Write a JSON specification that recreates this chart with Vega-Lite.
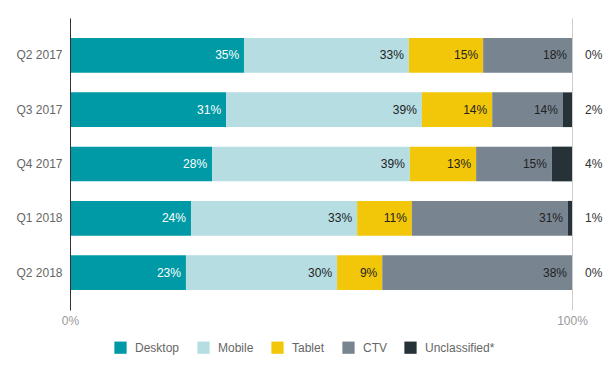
{
  "$schema": "https://vega.github.io/schema/vega-lite/v6.json",
  "width": 502,
  "height": 292,
  "autosize": {"type": "none"},
  "padding": {"left": 70, "top": 18, "right": 32, "bottom": 61},
  "background": "white",
  "config": {
    "view": {"stroke": null},
    "font": "Liberation Sans"
  },
  "data": {
    "values": [
      {"quarter": "Q2 2017", "device": "Desktop", "o": 1, "value": 34.7},
      {"quarter": "Q2 2017", "device": "Mobile", "o": 2, "value": 32.8},
      {"quarter": "Q2 2017", "device": "Tablet", "o": 3, "value": 14.8},
      {"quarter": "Q2 2017", "device": "CTV", "o": 4, "value": 17.7},
      {"quarter": "Q2 2017", "device": "Unclassified*", "o": 5, "value": 0},
      {"quarter": "Q3 2017", "device": "Desktop", "o": 1, "value": 31.1},
      {"quarter": "Q3 2017", "device": "Mobile", "o": 2, "value": 39.0},
      {"quarter": "Q3 2017", "device": "Tablet", "o": 3, "value": 14.0},
      {"quarter": "Q3 2017", "device": "CTV", "o": 4, "value": 14.1},
      {"quarter": "Q3 2017", "device": "Unclassified*", "o": 5, "value": 1.8},
      {"quarter": "Q4 2017", "device": "Desktop", "o": 1, "value": 28.3},
      {"quarter": "Q4 2017", "device": "Mobile", "o": 2, "value": 39.4},
      {"quarter": "Q4 2017", "device": "Tablet", "o": 3, "value": 13.2},
      {"quarter": "Q4 2017", "device": "CTV", "o": 4, "value": 15.1},
      {"quarter": "Q4 2017", "device": "Unclassified*", "o": 5, "value": 4.0},
      {"quarter": "Q1 2018", "device": "Desktop", "o": 1, "value": 24.1},
      {"quarter": "Q1 2018", "device": "Mobile", "o": 2, "value": 33.1},
      {"quarter": "Q1 2018", "device": "Tablet", "o": 3, "value": 10.9},
      {"quarter": "Q1 2018", "device": "CTV", "o": 4, "value": 31.1},
      {"quarter": "Q1 2018", "device": "Unclassified*", "o": 5, "value": 0.8},
      {"quarter": "Q2 2018", "device": "Desktop", "o": 1, "value": 23.1},
      {"quarter": "Q2 2018", "device": "Mobile", "o": 2, "value": 30.1},
      {"quarter": "Q2 2018", "device": "Tablet", "o": 3, "value": 9.0},
      {"quarter": "Q2 2018", "device": "CTV", "o": 4, "value": 37.8},
      {"quarter": "Q2 2018", "device": "Unclassified*", "o": 5, "value": 0}
    ]
  },
  "transform": [
    {"stack": "value", "groupby": ["quarter"], "sort": [{"field": "o", "order": "ascending"}], "offset": "normalize", "as": ["x0", "x1"]},
    {"calculate": "datum.value / 100", "as": "frac"}
  ],
  "encoding": {
    "y": {
      "field": "quarter",
      "type": "nominal",
      "sort": ["Q2 2017", "Q3 2017", "Q4 2017", "Q1 2018", "Q2 2018"],
      "scale": {"paddingInner": 0.36, "paddingOuter": 0.37},
      "axis": {
        "title": null,
        "ticks": false,
        "domainColor": "#333333",
        "domainWidth": 1,
        "labelColor": "#666666",
        "labelFontSize": 12,
        "labelPadding": 8,
        "zindex": 2
      }
    }
  },
  "layer": [
    {
      "mark": {"type": "bar"},
      "encoding": {
        "x": {
          "field": "x0",
          "type": "quantitative",
          "scale": {"domain": [0, 1], "nice": false},
          "axis": {
            "title": null,
            "values": [0, 1],
            "format": ".0%",
            "domain": false,
            "ticks": false,
            "grid": true,
            "gridColor": "#cccccc",
            "labelColor": "#999999",
            "labelFontSize": 12,
            "labelPadding": 5,
            "labelFlush": false
          }
        },
        "x2": {"field": "x1"},
        "color": {
          "field": "device",
          "type": "nominal",
          "scale": {
            "domain": ["Desktop", "Mobile", "Tablet", "CTV", "Unclassified*"],
            "range": ["#009aa6", "#b5dde2", "#f2c70a", "#788591", "#263238"]
          },
          "legend": {
            "title": null,
            "orient": "none",
            "legendX": 44,
            "legendY": 323,
            "padding": 0,
            "direction": "horizontal",
            "symbolType": "square",
            "symbolSize": 150,
            "symbolStrokeWidth": 0,
            "labelColor": "#666666",
            "labelFontSize": 12,
            "labelOffset": 8,
            "columnPadding": 17
          }
        }
      }
    },
    {
      "transform": [{"filter": "datum.device !== 'Unclassified*'"}],
      "mark": {"type": "text", "align": "right", "baseline": "middle", "dx": -5, "fontSize": 12},
      "encoding": {
        "x": {"field": "x1", "type": "quantitative"},
        "text": {"field": "frac", "type": "quantitative", "format": ".0%"},
        "color": {
          "condition": {"test": "datum.device === 'Desktop'", "value": "#ffffff"},
          "value": "#222222"
        }
      }
    },
    {
      "transform": [{"filter": "datum.device === 'Unclassified*'"}],
      "mark": {"type": "text", "align": "left", "baseline": "middle", "dx": 13, "fontSize": 12, "color": "#333333"},
      "encoding": {
        "x": {"datum": 1, "type": "quantitative"},
        "text": {"field": "frac", "type": "quantitative", "format": ".0%"}
      }
    }
  ]
}
